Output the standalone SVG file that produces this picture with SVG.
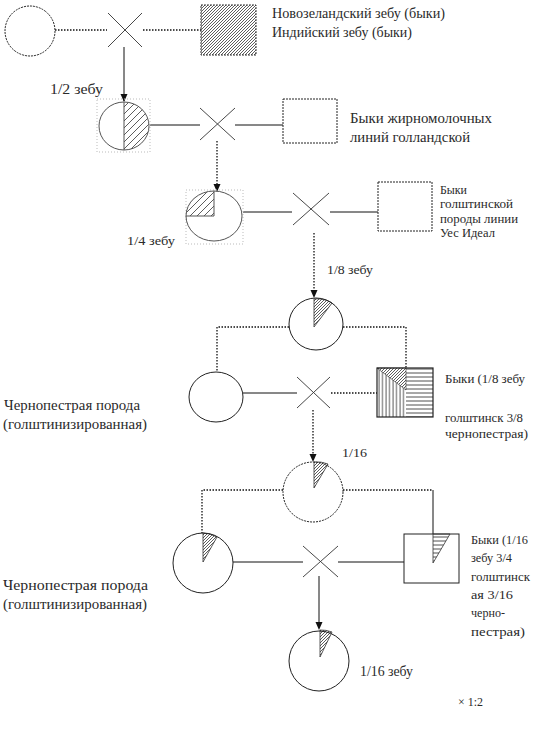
<svg xmlns="http://www.w3.org/2000/svg" width="557" height="747" viewBox="0 0 557 747">
<style>
.sh{fill:none;stroke:#222;stroke-width:1}
.shd{fill:none;stroke:#222;stroke-width:1;stroke-dasharray:2,1}
.box{fill:none;stroke:#bbb;stroke-width:1;stroke-dasharray:1,2}
.ln{stroke:#111;stroke-width:1;fill:none}
.dt{stroke:#111;stroke-width:1.3;fill:none;stroke-dasharray:1.5,1.5}
.cr{stroke:#333;stroke-width:0.9;fill:none}
.t{font-family:"Liberation Serif","DejaVu Serif",serif;fill:#2a2a2a}
.t14{font-size:14px}
.t13{font-size:13px}
.t12{font-size:12px}
</style>
<defs>
<pattern id="dg" patternUnits="userSpaceOnUse" width="3" height="3"><path d="M-1,1 L1,-1 M0,3 L3,0 M2,4 L4,2" stroke="#333" stroke-width="0.8"/></pattern>
<pattern id="dgw" patternUnits="userSpaceOnUse" width="7" height="7"><path d="M-1,1 L1,-1 M0,7 L7,0 M6,8 L8,6" stroke="#333" stroke-width="0.8"/></pattern>
<pattern id="vt" patternUnits="userSpaceOnUse" width="3.5" height="4"><path d="M1,0 L1,4" stroke="#222" stroke-width="0.8"/></pattern>
<pattern id="hz" patternUnits="userSpaceOnUse" width="4" height="4"><path d="M0,1 L4,1" stroke="#222" stroke-width="0.8"/></pattern>
</defs>

<g id="connectors">
<line class="dt" x1="55" y1="30" x2="107" y2="30"/>
<line class="dt" x1="143" y1="30" x2="201" y2="30"/>
<line class="ln" x1="124" y1="47" x2="124" y2="101"/>
<path d="M120.5,94 L127.5,94 L124,102 Z" fill="#111"/>
<line class="ln" x1="150" y1="125" x2="200" y2="125"/>
<line class="ln" x1="235" y1="125" x2="283" y2="125"/>
<line class="dt" x1="217" y1="141" x2="217" y2="190"/>
<path d="M213.5,184 L220.5,184 L217,192 Z" fill="#111"/>
<line class="ln" x1="243" y1="212" x2="292" y2="212"/>
<line class="ln" x1="330" y1="212" x2="378" y2="212"/>
<line class="dt" x1="314" y1="233" x2="314" y2="294"/>
<path d="M310.5,290 L317.5,290 L314,298 Z" fill="#111"/>
<polyline class="dt" points="289,327 217,327 217,372"/>
<polyline class="dt" points="343,327 406,327 406,368"/>
<line class="ln" x1="243" y1="393" x2="297" y2="393"/>
<line class="dt" x1="331" y1="393" x2="377" y2="393"/>
<line class="dt" x1="313" y1="410" x2="313" y2="457"/>
<path d="M309.5,454 L316.5,454 L313,462 Z" fill="#111"/>
<polyline class="dt" points="283,490 202,490 202,533"/>
<line class="dt" x1="343" y1="490" x2="433" y2="490"/>
<line class="ln" x1="433" y1="490" x2="433" y2="534"/>
<line class="ln" x1="233" y1="562" x2="303" y2="562"/>
<line class="ln" x1="338" y1="562" x2="404" y2="562"/>
<line class="ln" x1="319" y1="576" x2="319" y2="626"/>
<path d="M315.5,622 L322.5,622 L319,630 Z" fill="#111"/>
</g>

<g id="cross1"><path class="cr" d="M108,13 L142,47 M142,13 L108,47"/></g>
<g id="cross2"><path class="cr" d="M200,108 L235,140 M235,108 L200,140"/></g>
<g id="cross3"><path class="cr" d="M293,193 L329,225 M329,193 L293,225"/></g>
<g id="cross4"><path class="cr" d="M297,377 L330,408 M330,377 L297,408"/></g>
<g id="cross5"><path class="cr" d="M303,546 L338,577 M338,546 L303,577"/></g>

<g id="n-ellipse1"><ellipse class="shd" cx="30" cy="31" rx="25" ry="25"/></g>

<g id="n-zebu-sq">
<rect x="201" y="5" width="55" height="50" fill="url(#dg)" stroke="#333" stroke-width="1" stroke-dasharray="2,1"/>
<text class="t t14" x="272" y="18" textLength="173" lengthAdjust="spacingAndGlyphs">Новозеландский зебу (быки)</text>
<text class="t t14" x="272" y="37" textLength="140" lengthAdjust="spacingAndGlyphs">Индийский зебу (быки)</text>
</g>

<g id="n-half">
<rect class="box" x="97" y="99" width="53" height="53"/>
<path d="M124,102 A25,24 0 0 1 124,150 Z" fill="url(#dgw)"/>
<ellipse cx="124" cy="126" rx="25" ry="24" fill="none" stroke="#555" stroke-width="1"/>
<line x1="124" y1="102" x2="124" y2="150" stroke="#555" stroke-width="1"/>
<text class="t t14" x="50" y="94" textLength="53" lengthAdjust="spacingAndGlyphs">1/2 зебу</text>
</g>

<g id="n-sq2">
<rect class="shd" x="283" y="99" width="54" height="44"/>
<text class="t t14" x="350" y="123" textLength="142" lengthAdjust="spacingAndGlyphs">Быки жирномолочных</text>
<text class="t t14" x="350" y="142" textLength="120" lengthAdjust="spacingAndGlyphs">линий голландской</text>
</g>

<g id="n-quarter">
<rect class="box" x="186" y="190" width="57" height="54"/>
<path d="M214,216 L186,216 A28,25 0 0 1 214,191 Z" fill="url(#dgw)"/>
<ellipse cx="214" cy="216" rx="28" ry="25" fill="none" stroke="#555" stroke-width="1"/>
<path d="M186,216 L214,216 L214,191" fill="none" stroke="#555" stroke-width="1"/>
<text class="t t13" x="127" y="245" textLength="48" lengthAdjust="spacingAndGlyphs">1/4 зебу</text>
</g>

<g id="n-sq3">
<rect class="shd" x="378" y="182" width="54" height="49"/>
<text class="t t12" x="440" y="194" textLength="27" lengthAdjust="spacingAndGlyphs">Быки</text>
<text class="t t12" x="440" y="208" textLength="73" lengthAdjust="spacingAndGlyphs">голштинской</text>
<text class="t t12" x="440" y="223" textLength="78" lengthAdjust="spacingAndGlyphs">породы линии</text>
<text class="t t12" x="440" y="237" textLength="55" lengthAdjust="spacingAndGlyphs">Уес Идеал</text>
</g>

<text class="t t13" x="327" y="274" textLength="46" lengthAdjust="spacingAndGlyphs">1/8 зебу</text>

<g id="n-eighth">
<path d="M314,327 L314,299 A27,26 0 0 1 332,303 Z" fill="url(#dg)" stroke="#333" stroke-width="0.8"/>
<ellipse class="sh" cx="316" cy="324" rx="27" ry="26"/>
</g>

<g id="n-ellipse4">
<ellipse class="sh" cx="216" cy="397" rx="27" ry="25"/>
<text class="t t14" x="4" y="410" textLength="136" lengthAdjust="spacingAndGlyphs">Чернопестрая порода</text>
<text class="t t14" x="3" y="429" textLength="144" lengthAdjust="spacingAndGlyphs">(голштинизированная)</text>
</g>

<g id="n-sq4">
<rect x="377" y="368" width="29" height="49" fill="url(#vt)"/>
<path d="M377,368 L406,368 L406,390 Z" fill="#fff"/>
<path d="M377,368 L406,368 L406,390 Z" fill="url(#dg)" stroke="#333" stroke-width="0.6"/>
<rect x="406" y="368" width="27" height="49" fill="url(#hz)"/>
<rect x="377" y="368" width="56" height="49" fill="none" stroke="#222" stroke-width="1.2"/>
<text class="t t12" x="445" y="383" textLength="80" lengthAdjust="spacingAndGlyphs">Быки (1/8 зебу</text>
<text class="t t12" x="445" y="422" textLength="78" lengthAdjust="spacingAndGlyphs">голштинск 3/8</text>
<text class="t t12" x="445" y="438" textLength="83" lengthAdjust="spacingAndGlyphs">чернопестрая)</text>
</g>

<text class="t t13" x="342" y="457" textLength="25" lengthAdjust="spacingAndGlyphs">1/16</text>

<g id="n-sixteenth">
<path d="M314,488 L314,462 A30,30 0 0 1 328,464 Z" fill="url(#dg)" stroke="#333" stroke-width="0.8"/>
<circle class="shd" cx="313" cy="492" r="30"/>
</g>

<g id="n-circle6">
<path d="M203,562 L203,533 A30,30 0 0 1 217,537 Z" fill="url(#dg)" stroke="#333" stroke-width="0.8"/>
<circle class="sh" cx="203" cy="563" r="30"/>
<text class="t t14" x="3" y="590" textLength="145" lengthAdjust="spacingAndGlyphs">Чернопестрая порода</text>
<text class="t t14" x="3" y="609" textLength="144" lengthAdjust="spacingAndGlyphs">(голштинизированная)</text>
</g>

<g id="n-sq6">
<rect class="sh" x="404" y="534" width="55" height="49"/>
<path d="M433,534 L433,563 L450,534 Z" fill="url(#hz)" stroke="#333" stroke-width="0.8"/>
<text class="t t12" x="471" y="544" textLength="57" lengthAdjust="spacingAndGlyphs">Быки (1/16</text>
<text class="t t12" x="471" y="562" textLength="41" lengthAdjust="spacingAndGlyphs">зебу 3/4</text>
<text class="t t12" x="471" y="581" textLength="59" lengthAdjust="spacingAndGlyphs">голштинск</text>
<text class="t t12" x="471" y="599" textLength="42" lengthAdjust="spacingAndGlyphs">ая 3/16</text>
<text class="t t12" x="471" y="617" textLength="34" lengthAdjust="spacingAndGlyphs">черно-</text>
<text class="t t12" x="471" y="636" textLength="54" lengthAdjust="spacingAndGlyphs">пестрая)</text>
</g>

<g id="n-result">
<path d="M320,657 L320,630 A30,30 0 0 1 332,632 Z" fill="url(#dg)" stroke="#333" stroke-width="0.8"/>
<circle class="sh" cx="319" cy="661" r="30"/>
<text class="t t14" x="360" y="676" textLength="53" lengthAdjust="spacingAndGlyphs">1/16 зебу</text>
</g>

<text class="t t12" x="458" y="706" textLength="25" lengthAdjust="spacingAndGlyphs">× 1:2</text>
</svg>
